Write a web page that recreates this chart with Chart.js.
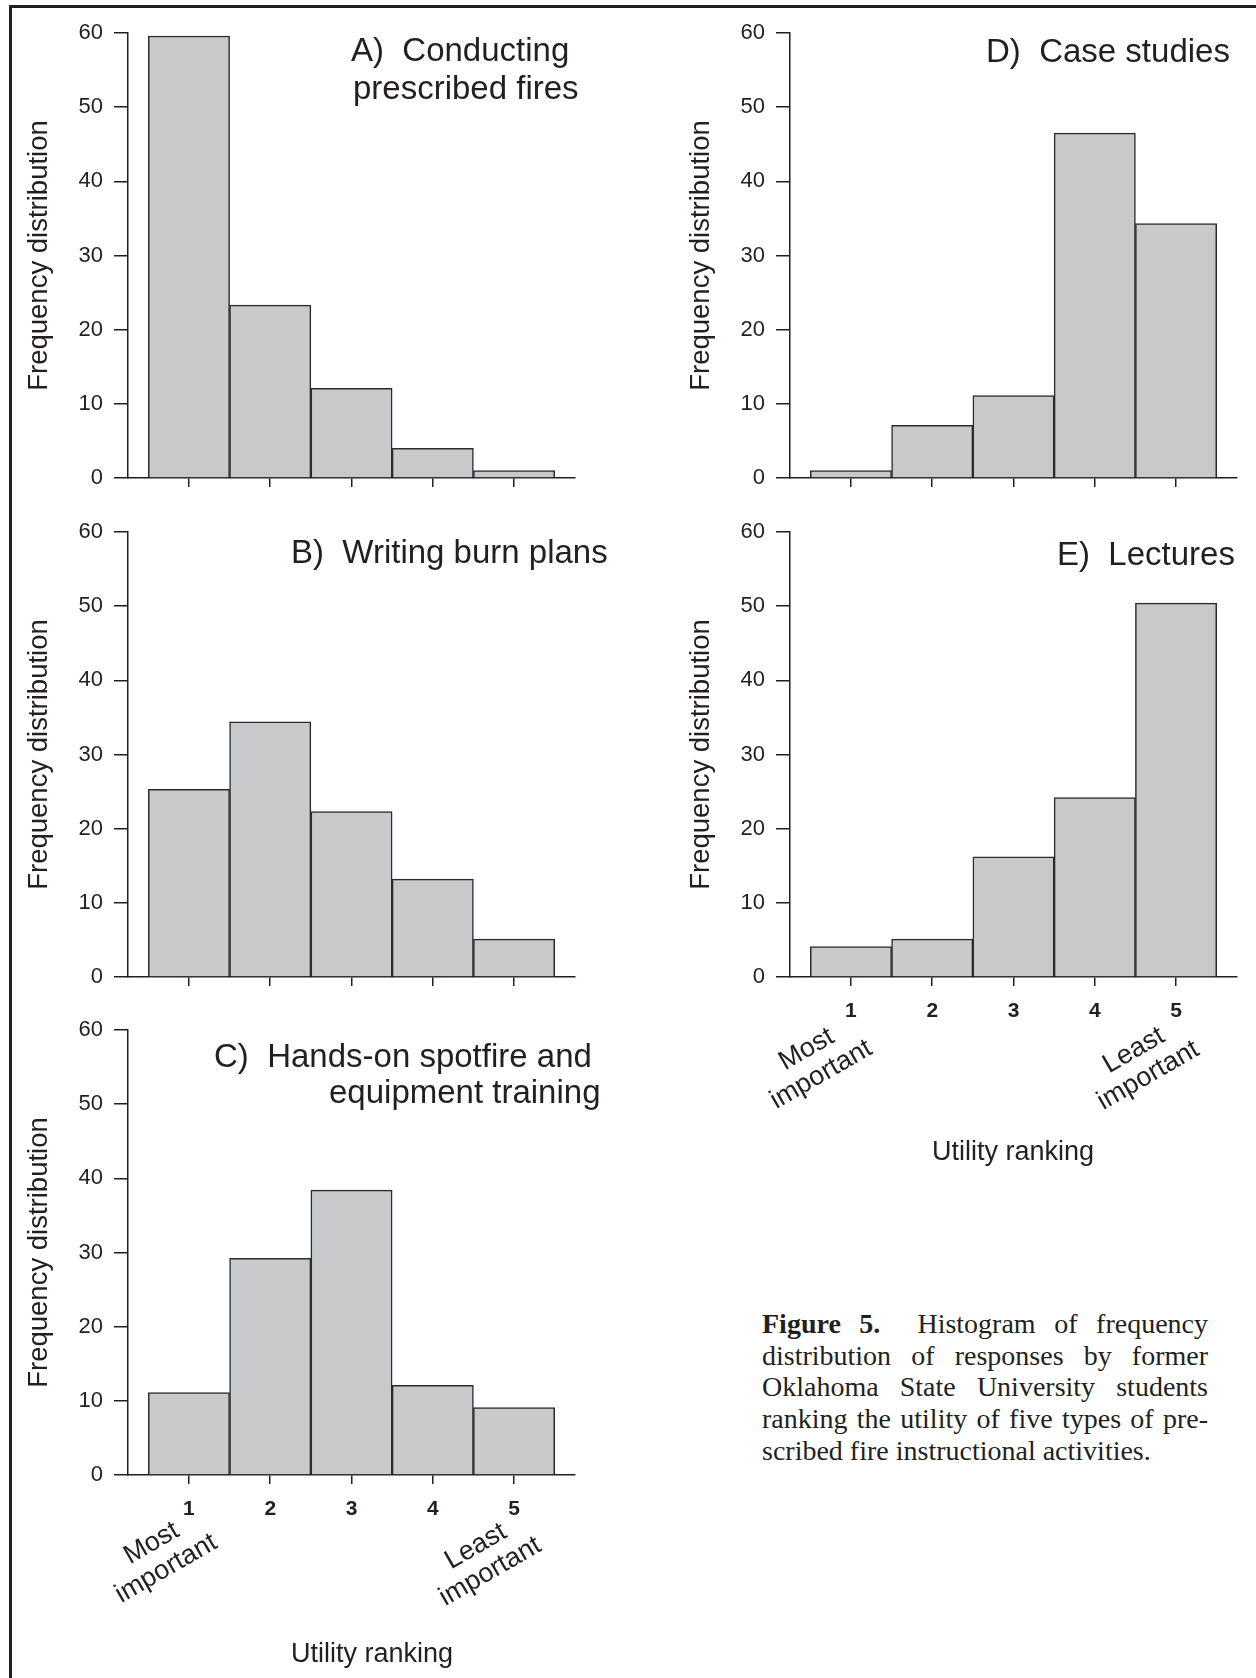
<!DOCTYPE html>
<html>
<head>
<meta charset="utf-8">
<script src="https://cdn.jsdelivr.net/npm/chart.js@4.4.1/dist/chart.umd.min.js"></script>
<style>
  html, body { margin: 0; padding: 0; background: #fff; }
  body { width: 1256px; height: 1678px; position: relative; overflow: hidden; }
  .frame { position: absolute; left: 9px; top: 5px; width: 1300px; height: 1720px;
           border-left: 3px solid #231f20; border-top: 3px solid #231f20; }
  canvas { position: absolute; }
  #caption { position: absolute; left: 762px; top: 1308px; width: 446px;
             font-family: "Liberation Serif", "Times New Roman", serif; font-size: 28px;
             line-height: 31.7px; color: #231f20; }
  #caption .j { text-align: justify; text-align-last: justify; }
</style>
</head>
<body>
<div class="frame"></div>
<canvas id="chartA"></canvas>
<canvas id="chartB"></canvas>
<canvas id="chartC"></canvas>
<canvas id="chartD"></canvas>
<canvas id="chartE"></canvas>
<div id="caption">
  <div class="j"><b>Figure 5.</b>&nbsp; Histogram of frequency</div>
  <div class="j">distribution of responses by former</div>
  <div class="j">Oklahoma State University students</div>
  <div class="j">ranking the utility of five types of pre-</div>
  <div>scribed fire instructional activities.</div>
</div>
<script>
// 数据
const rankings = [1, 2, 3, 4, 5];
const rankLabels = ['1', '2', '3', '4', '5'];
const freqTicks = [0, 10, 20, 30, 40, 50, 60];
const conductingFires = [59.6, 23.3, 12.1, 4.0, 1.0];
const burnPlans = [25.3, 34.4, 22.3, 13.2, 5.1];
const spotfireTraining = [11.1, 29.2, 38.4, 12.1, 9.1];
const caseStudies = [1.0, 7.1, 11.1, 46.5, 34.3];
const lectures = [4.1, 5.1, 16.2, 24.2, 50.4];

const ink = '#231f20';
const sans = '"Liberation Sans", Arial, sans-serif';

// 面板位置（页面坐标）
const panels = [
    { id: 'chartA', values: conductingFires, left: 0, top: 0, width: 630, height: 530,
      title: [['A)  Conducting', 351, 52], ['prescribed fires', 353, 90]] },
    { id: 'chartB', values: burnPlans, left: 0, top: 499, width: 630, height: 530,
      title: [['B)  Writing burn plans', 291, 554]] },
    { id: 'chartC', values: spotfireTraining, left: 0, top: 997, width: 630, height: 681,
      title: [['C)  Hands-on spotfire and', 214, 1058], ['equipment training', 329, 1094]],
      notes: { most: [-30, 81], least: [-31, 84], axisTitle: [372, 1655] } },
    { id: 'chartD', values: caseStudies, left: 662, top: 0, width: 594, height: 530,
      title: [['D)  Case studies', 986, 53]] },
    { id: 'chartE', values: lectures, left: 662, top: 499, width: 594, height: 700,
      title: [['E)  Lectures', 1057, 556]],
      notes: { most: [-37, 85], least: [-35, 86], axisTitle: [1013, 1153] } }
];

const plotTop = 33, plotW = 447, plotH = 445, axisLeft = 128;

// 标题和“最重要/最不重要”注释
const annotate = {
    id: 'annotate',
    afterDraw(chart) {
        const p = chart.options.plugins.annotate;
        const ctx = chart.ctx;
        ctx.save();
        ctx.fillStyle = ink;
        ctx.font = '33px ' + sans;
        ctx.textBaseline = 'middle';
        ctx.textAlign = 'left';
        p.title.forEach(([t, x, y]) => ctx.fillText(t, x - p.left, y - p.top));
        if (p.notes) {
            const xs = chart.scales.x;
            const base = chart.chartArea.bottom;
            ctx.textAlign = 'center';
            ctx.font = '27px ' + sans;
            ctx.fillText('Utility ranking', p.notes.axisTitle[0] - p.left, p.notes.axisTitle[1] - p.top);
            const notes = [[['Most', 'important'], rankings[0], p.notes.most],
                           [['Least', 'important'], rankings[4], p.notes.least]];
            notes.forEach(([lines, r, off]) => {
                ctx.save();
                ctx.translate(xs.getPixelForValue(r) + off[0], base + off[1]);
                ctx.rotate(-30 * Math.PI / 180);
                ctx.fillText(lines[0], 0, -14.5);
                ctx.fillText(lines[1], 0, 14.5);
                ctx.restore();
            });
        }
        ctx.restore();
    }
};

panels.forEach(p => {
    const cv = document.getElementById(p.id);
    cv.width = p.width;
    cv.height = p.height;
    cv.style.left = p.left + 'px';
    cv.style.top = p.top + 'px';
    const ranks = !!p.notes;
    const xAxisH = ranks ? 60 : 22;
    new Chart(cv, {
        type: 'bar',
        data: {
            datasets: [{
                data: rankings.map((r, i) => ({ x: r, y: p.values[i] })),
                backgroundColor: '#c8c9cb',
                borderColor: '#2b2b2b',
                borderWidth: 1.5,
                borderSkipped: 'start',
                categoryPercentage: 1,
                barPercentage: 1
            }]
        },
        options: {
            responsive: false,
            animation: false,
            layout: { padding: { left: 0, top: plotTop, right: p.width - axisLeft - plotW,
                                 bottom: p.height - plotTop - plotH - xAxisH } },
            plugins: {
                legend: { display: false },
                tooltip: { enabled: false },
                annotate: { title: p.title, left: p.left, top: p.top, notes: p.notes }
            },
            scales: {
                x: {
                    type: 'linear', min: 0.25, max: 5.75, offset: false,
                    afterBuildTicks: s => { s.ticks = rankings.map(v => ({ value: v })); },
                    afterFit: s => { s.height = xAxisH; },
                    border: { color: ink, width: 1.5 },
                    grid: { drawOnChartArea: false, offset: false, tickLength: 9, color: ink, lineWidth: 1.5 },
                    ticks: { display: ranks, callback: v => rankLabels[v - 1], color: ink, padding: 13,
                             maxRotation: 0, font: { family: sans, size: 21, weight: 'bold' } }
                },
                y: {
                    min: 0, max: 60,
                    afterBuildTicks: s => { s.ticks = freqTicks.map(v => ({ value: v })); },
                    afterFit: s => { s.width = axisLeft; },
                    border: { color: ink, width: 1.5 },
                    grid: { drawOnChartArea: false, tickLength: 14, color: ink, lineWidth: 1.5 },
                    ticks: { color: ink, padding: 11, font: { family: sans, size: 22 } },
                    title: { display: true, text: 'Frequency distribution', color: ink,
                             font: { family: sans, size: 27.5 }, padding: { top: 23 } }
                }
            }
        },
        plugins: [annotate]
    });
});
</script>
</body>
</html>
